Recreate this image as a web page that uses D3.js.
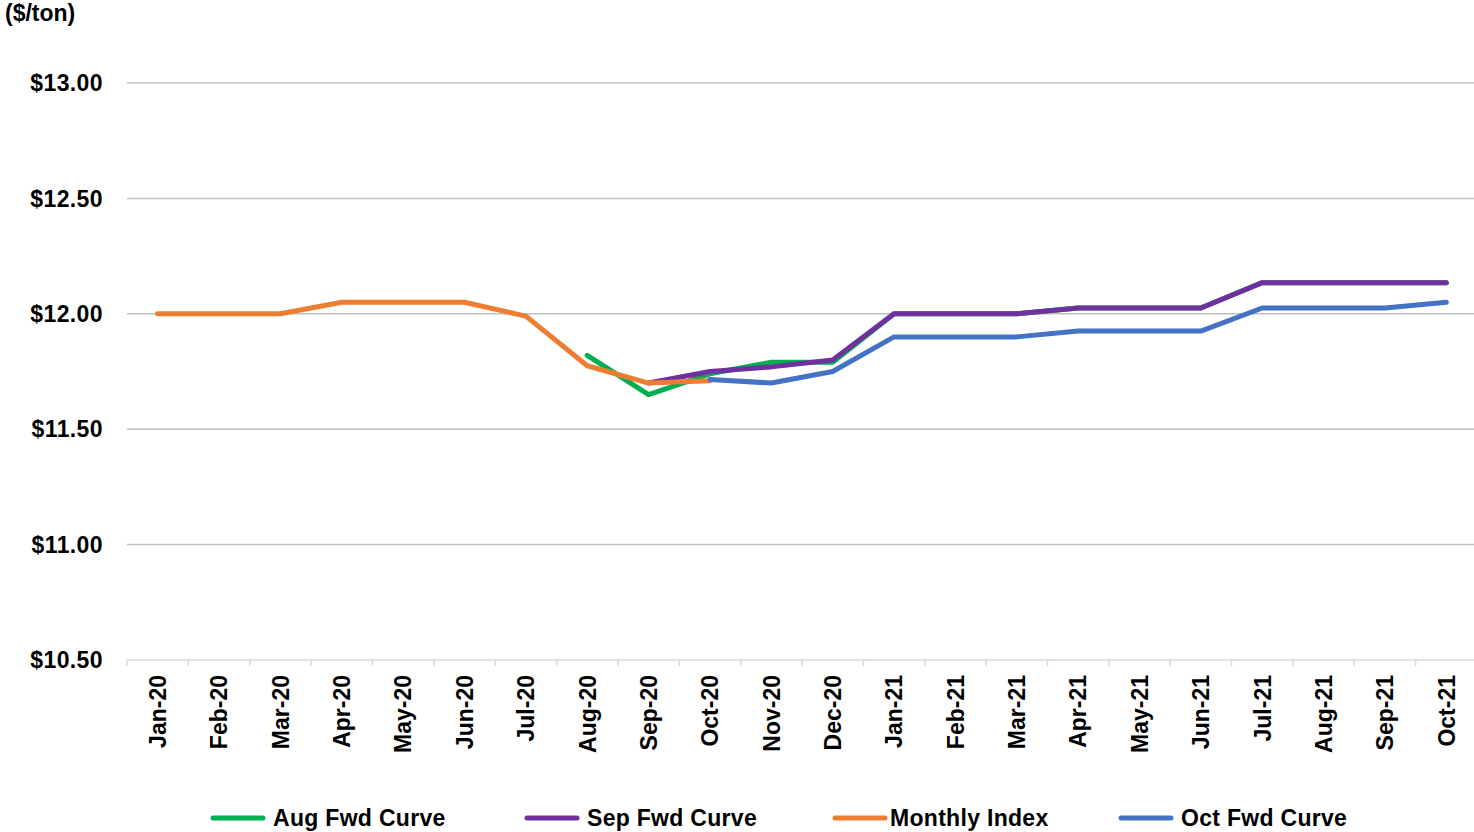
<!DOCTYPE html>
<html>
<head>
<meta charset="utf-8">
<script src="https://cdn.jsdelivr.net/npm/d3@7"></script>
<style>
  body { margin: 0; background: #fff; }
  svg text { font-family: "Liberation Sans", Arial, sans-serif; font-weight: bold; fill: #000; }
  .grid { stroke: #bfbfbf; stroke-width: 1.5; }
  .x-axis path, .x-axis line { stroke: #d9d9d9; stroke-width: 1.5; }
</style>
</head>
<body>
<div id="chart"></div>
<script>
// Chart data
let months = ['Jan-20', 'Feb-20', 'Mar-20', 'Apr-20', 'May-20', 'Jun-20', 'Jul-20', 'Aug-20',
              'Sep-20', 'Oct-20', 'Nov-20', 'Dec-20', 'Jan-21', 'Feb-21', 'Mar-21', 'Apr-21',
              'May-21', 'Jun-21', 'Jul-21', 'Aug-21', 'Sep-21', 'Oct-21'];
let yTicks = [10.5, 11.0, 11.5, 12.0, 12.5, 13.0];

// each series: first month and values from there on
let augStart = 'Aug-20';
let augValues = [11.82, 11.65, 11.74, 11.79, 11.79, 12.00, 12.00, 12.00, 12.025, 12.025, 12.025, 12.135, 12.135, 12.135, 12.135];
let sepStart = 'Sep-20';
let sepValues = [11.70, 11.75, 11.77, 11.80, 12.00, 12.00, 12.00, 12.025, 12.025, 12.025, 12.135, 12.135, 12.135, 12.135];
let indexStart = 'Jan-20';
let indexValues = [12.00, 12.00, 12.00, 12.05, 12.05, 12.05, 11.99, 11.775, 11.70, 11.71];
let octStart = 'Oct-20';
let octValues = [11.715, 11.70, 11.75, 11.90, 11.90, 11.90, 11.925, 11.925, 11.925, 12.025, 12.025, 12.025, 12.05];

function createChart() {
    let width = 1474, height = 832;
    let plot = {left: 127, right: 1477, top: 83, bottom: 660};

    let series = [
        {name: 'Aug Fwd Curve', color: '#00b050', start: augStart, values: augValues},
        {name: 'Sep Fwd Curve', color: '#7030a0', start: sepStart, values: sepValues},
        {name: 'Monthly Index', color: '#ed7d31', start: indexStart, values: indexValues},
        {name: 'Oct Fwd Curve', color: '#4472c4', start: octStart, values: octValues}
    ];

    let scX = d3.scaleBand().domain(months).range([plot.left, plot.right]);
    let scY = d3.scaleLinear().domain([10.5, 13]).range([plot.bottom, plot.top]);

    let svg = d3.select('#chart')
        .append('svg')
            .attr('width', width)
            .attr('height', height);

    // Units label
    svg.append('text')
        .attr('x', 5)
        .attr('y', 21)
        .style('font-size', '23px')
        .text('($/ton)');

    // Horizontal gridlines (the bottom one is the x axis)
    svg.selectAll('line.grid')
        .data(yTicks.filter(d => d > 10.5))
        .enter()
        .append('line')
            .attr('class', 'grid')
            .attr('x1', plot.left)
            .attr('x2', plot.right)
            .attr('y1', d => scY(d))
            .attr('y2', d => scY(d));

    // Y tick labels
    svg.selectAll('text.ylab')
        .data(yTicks)
        .enter()
        .append('text')
            .attr('class', 'ylab')
            .attr('x', 103)
            .attr('y', d => scY(d))
            .attr('dy', '0.36em')
            .attr('text-anchor', 'end')
            .style('font-size', '23px')
            .style('letter-spacing', '0.4px')
            .text(d => '$' + d3.format('.2f')(d));

    // X axis with ticks between categories
    let xAxis = svg.append('g')
        .attr('class', 'x-axis')
        .attr('transform', `translate(0,${plot.bottom})`);
    xAxis.append('line')
        .attr('x1', plot.left)
        .attr('x2', plot.right);
    xAxis.selectAll('line.tick')
        .data(months)
        .enter()
        .append('line')
            .attr('class', 'tick')
            .attr('x1', d => scX(d))
            .attr('x2', d => scX(d))
            .attr('y1', 0)
            .attr('y2', 6);
    xAxis.selectAll('text')
        .data(months)
        .enter()
        .append('text')
            .attr('text-anchor', 'end')
            .attr('transform', d => `translate(${scX(d) + scX.bandwidth() / 2},${15}) rotate(-90)`)
            .attr('dy', '0.36em')
            .style('font-size', '23px')
            .text(d => d);

    // Lines
    let plotLine = d3.line()
        .x(d => scX(d.month) + scX.bandwidth() / 2)
        .y(d => scY(d.value));

    series.forEach(s => {
        let i0 = months.indexOf(s.start);
        let pts = s.values.map((v, i) => ({month: months[i0 + i], value: v}));
        svg.append('path')
            .attr('fill', 'none')
            .attr('stroke', s.color)
            .attr('stroke-width', 5)
            .attr('stroke-linecap', 'round')
            .attr('stroke-linejoin', 'round')
            .attr('d', plotLine(pts));
    });

    // Legend
    let legendX = [213, 527, 835, 1121];
    let legendY = 818;
    series.forEach((s, i) => {
        let g = svg.append('g').attr('transform', `translate(${legendX[i]},${legendY})`);
        g.append('line')
            .attr('x1', 0)
            .attr('x2', 50)
            .attr('stroke', s.color)
            .attr('stroke-width', 5)
            .attr('stroke-linecap', 'round');
        g.append('text')
            .attr('x', i === 2 ? 55 : 60)
            .attr('dy', '0.36em')
            .style('font-size', '23px')
            .style('letter-spacing', '0.3px')
            .text(s.name);
    });
}

createChart();
</script>
</body>
</html>
